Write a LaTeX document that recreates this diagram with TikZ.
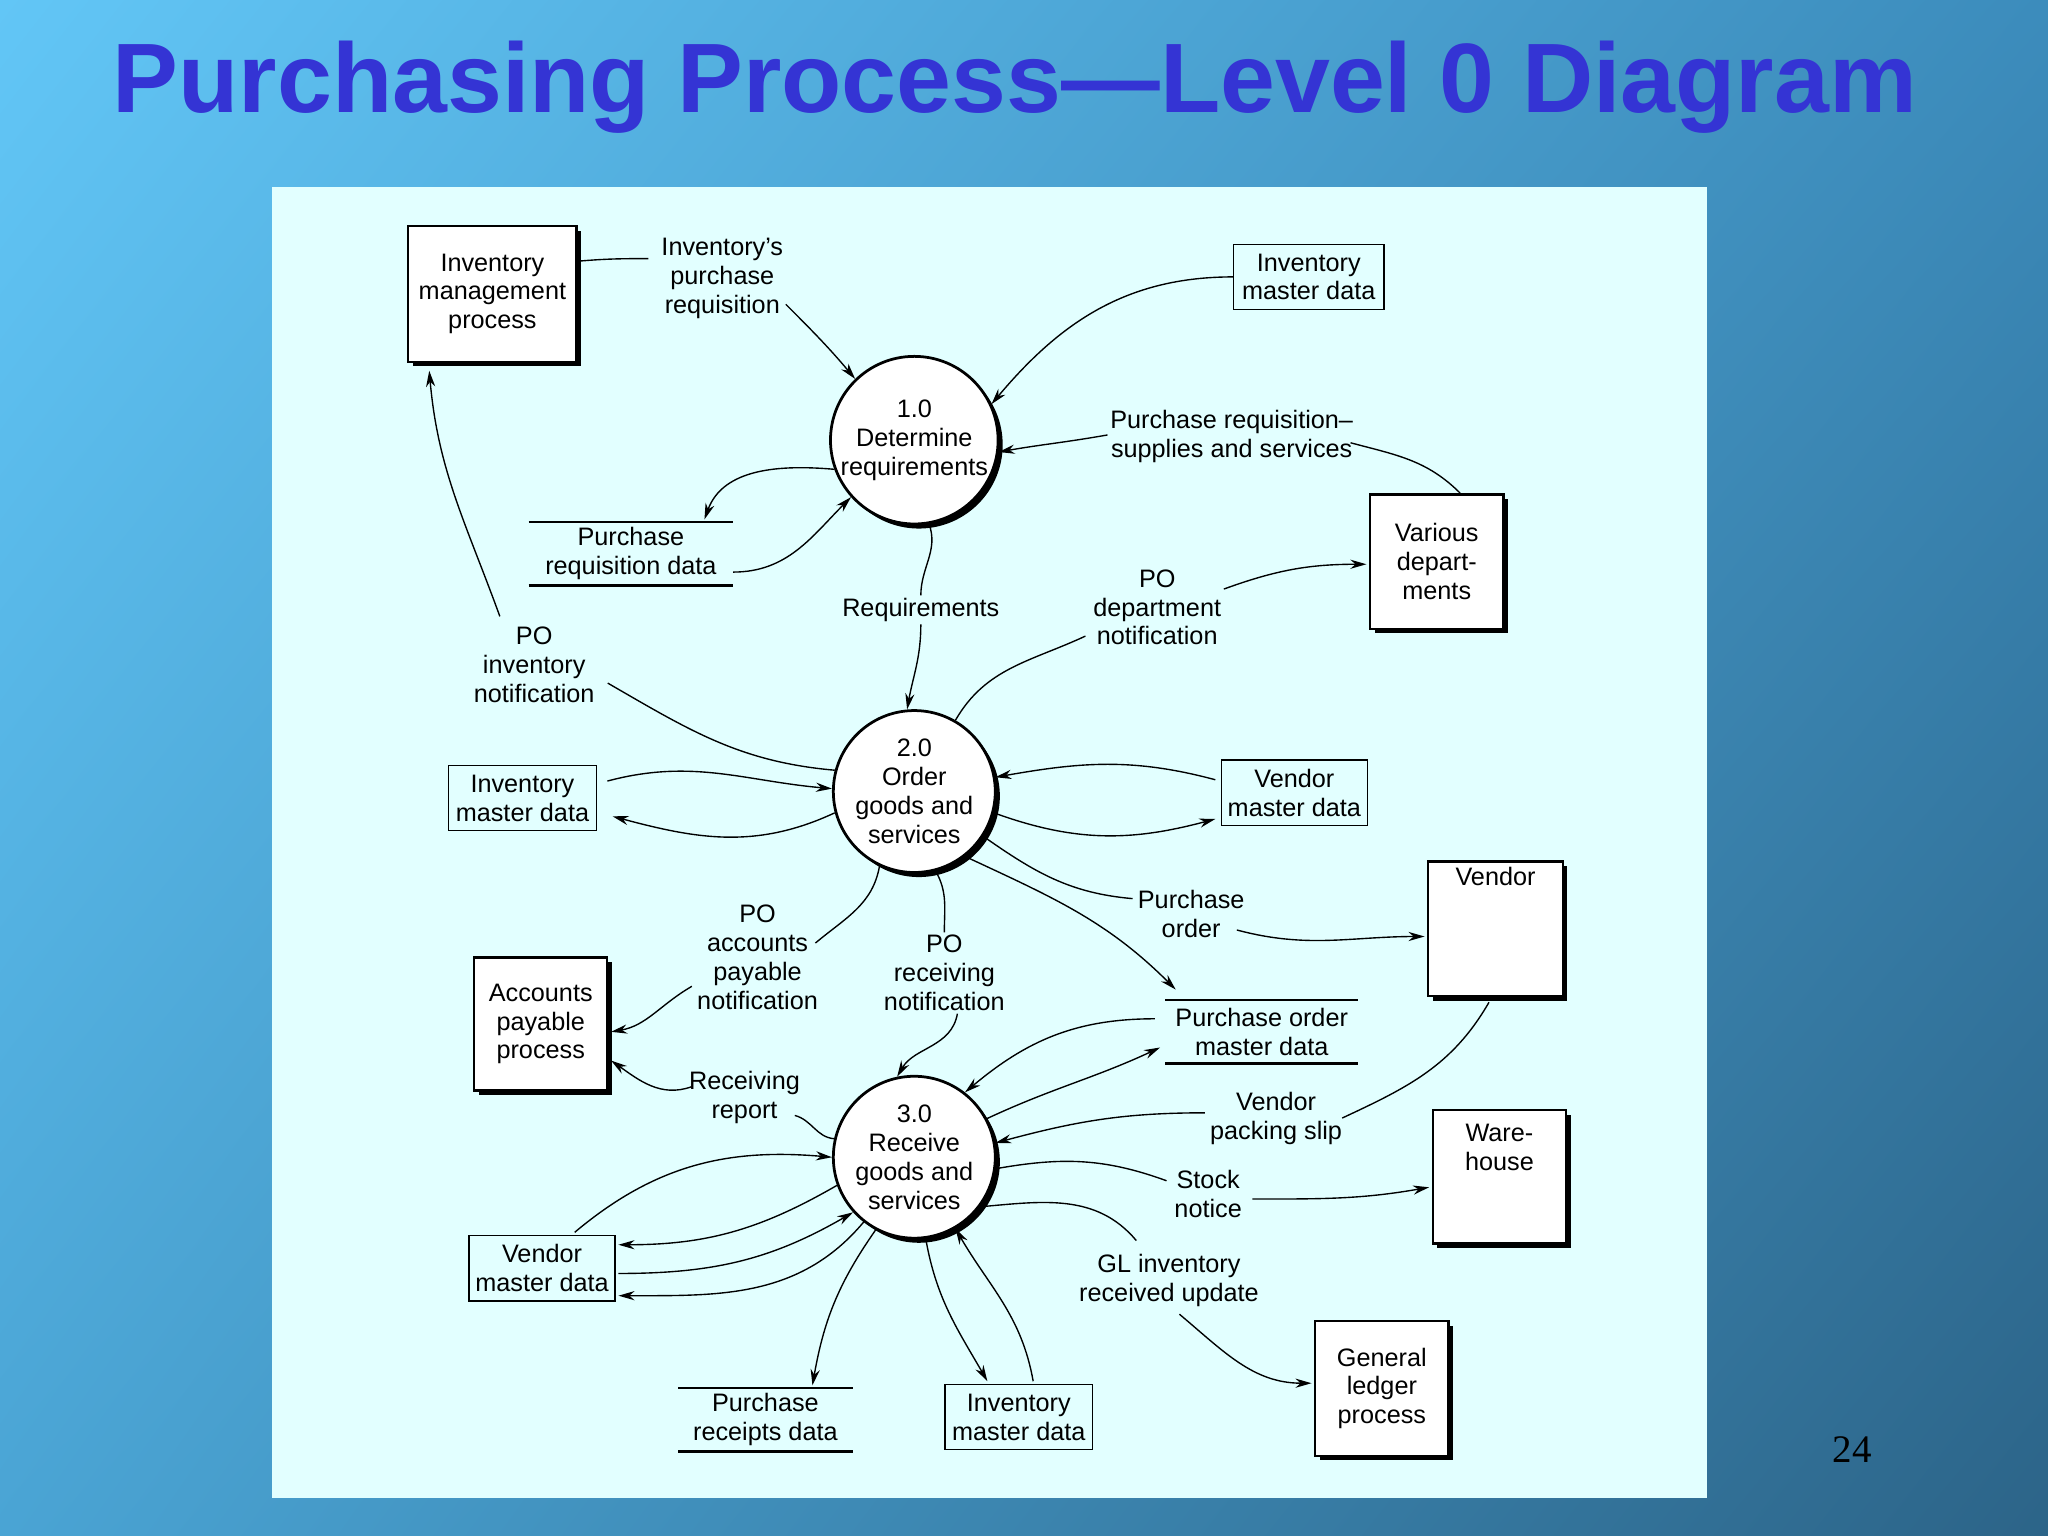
\documentclass[tikz,border=0pt]{standalone}
\usepackage{fontspec}
\setmainfont{Liberation Sans}
\newfontfamily\pgserif{Liberation Serif}
\usetikzlibrary{shadows,calc,arrows.meta,shadings}
\definecolor{titleblue}{HTML}{3434D4}
\definecolor{panel}{HTML}{E2FFFF}
\definecolor{bgtl}{HTML}{62C6F6}
\definecolor{bgbr}{HTML}{2C6488}
\definecolor{bgtr}{HTML}{3C8CBC}
\definecolor{bgbl}{HTML}{4AA4D4}
\tikzset{
  proc/.style={circle,draw,line width=1.2pt,fill=white,minimum size=2.48cm,inner sep=0pt,align=center,
    drop shadow={shadow xshift=2pt,shadow yshift=-2pt,opacity=1,fill=black}},
  ent/.style={rectangle,draw,line width=1pt,fill=white,align=center,inner sep=1pt,
    drop shadow={shadow xshift=2pt,shadow yshift=-2pt,opacity=1,fill=black}},
  store/.style={rectangle,draw,line width=0.6pt,align=center,inner sep=1pt,minimum height=1cm},
  open/.style={rectangle,align=center,inner sep=1pt,minimum height=0.96cm},
  lbl/.style={align=center,inner sep=1pt},
  flow/.style={line width=0.6pt,-{Stealth[length=7pt,width=4pt]}},
  seg/.style={line width=0.6pt}
}
\begin{document}
\begin{tikzpicture}[x=0.02cm,y=-0.02cm,font=\fontsize{11}{12.6}\selectfont]
\useasboundingbox (0,0) rectangle (1568,1176);
\shade[upper left=bgtl,upper right=bgtr,lower left=bgbl,lower right=bgbr] (0,0) rectangle (1568,1176);
\fill[panel] (208,143) rectangle (1307,1147);
\node[font=\fontsize{43}{50}\selectfont\bfseries,text=titleblue] (title) at (777,67) {Purchasing Process---Level 0 Diagram};
\node[font=\pgserif\fontsize{17}{20}\selectfont] (page) at (1418,1110) {24};

% processes
\node[proc] (p1) at (700,337) {1.0\\Determine\\requirements};
\node[proc] (p2) at (700,606) {2.0\\Order\\goods and\\services};
\node[proc] (p3) at (700,886) {3.0\\Receive\\goods and\\services};

% external entities
\node[ent,minimum width=2.58cm,minimum height=2.08cm] (imp) at (377,225) {Inventory\\management\\process};
\node[ent,minimum width=2.04cm,minimum height=2.06cm] (vd) at (1100,430) {Various\\depart-\\ments};
\node[ent,minimum width=2.06cm,minimum height=2.06cm] (vendor) at (1145,711) {Vendor\\[3em]};
\node[ent,minimum width=2.04cm,minimum height=2.04cm] (ap) at (414,784) {Accounts\\payable\\process};
\node[ent,minimum width=2.04cm,minimum height=2.04cm] (wh) at (1148,901) {Ware-\\house\\[1.2em]};
\node[ent,minimum width=2.04cm,minimum height=2.06cm] (gl) at (1058,1063) {General\\ledger\\process};

% data stores
\node[store,minimum width=2.3cm] (imd1) at (1002,212) {Inventory\\master data};
\node[store,minimum width=2.26cm] (imd2) at (400,611) {Inventory\\master data};
\node[store,minimum width=2.24cm] (vmd1) at (991,607) {Vendor\\master data};
\node[store,minimum width=2.24cm] (vmd2) at (415,971) {Vendor\\master data};
\node[store,minimum width=2.26cm] (imd3) at (780,1085) {Inventory\\master data};
\node[open,minimum width=3.12cm] (prd) at (483,424) {Purchase\\requisition data};
\node[open,minimum width=2.94cm] (pomd) at (966,790) {Purchase order\\master data};
\node[open,minimum width=2.66cm] (prcd) at (586,1087) {Purchase\\receipts data};
\foreach \s in {prd,pomd,prcd}{
  \draw[line width=0.6pt] (\s.north west) -- (\s.north east);
  \draw[line width=1.2pt] (\s.south west) -- (\s.south east);
}

% flow labels
\node[lbl] (ireq) at (553,213) {Inventory's\\purchase\\requisition};
\node[lbl] (prs) at (943,334) {Purchase requisition--\\supplies and services};
\node[lbl] (req) at (705,467) {Requirements};
\node[lbl] (dept) at (886,465) {PO\\department\\notification};
\node[lbl] (poinv) at (409,509) {PO\\inventory\\notification};
\node[lbl] (po) at (912,700) {Purchase\\order};
\node[lbl] (poap) at (580,733) {PO\\accounts\\payable\\notification};
\node[lbl] (porec) at (723,745) {PO\\receiving\\notification};
\node[lbl] (rr) at (570,840) {Receiving\\report};
\node[lbl] (ps) at (977,856) {Vendor\\packing slip};
\node[lbl] (sn) at (925,914) {Stock\\notice};
\node[lbl] (glu) at (895,980) {GL inventory\\received update};

% flows around 1.0
\draw[seg] ($(imp.east)+(0,-25)$) to[out=5,in=180] ($(ireq.west)+(-8,-15)$);
\draw[flow] ($(ireq.east)+(0,20)$) to[out=-45,in=130] (p1.134);
\draw[flow] (imd1.west) to[out=180,in=50] (p1.25);
\draw[flow] ($(prs.west)+(0,-1)$) to[out=190,in=10] (p1.-8);
\draw[seg] ($(prs.east)+(-4,5)$) to[out=-15,in=135] ($(vd.north)+(18,0)$);
\draw[flow] (p1.200) to[out=175,in=70] ($(prd.north east)+(-22,-2)$);
\draw[flow] ($(prd.east)+(0,14)$) to[out=0,in=225] (p1.222);
\draw[seg] (p1.-80) to[out=-70,in=90] (req.north);
\draw[flow] (req.south) to[out=-90,in=80] (p2.95);

% flows around 2.0
\draw[seg] (p2.60) to[out=60,in=205] ($(dept.west)+(-4,22)$);
\draw[flow] ($(dept.east)+(0,-14)$) to[out=20,in=180] ($(vd.west)+(-2,2)$);
\draw[seg] (p2.165) to[out=175,in=-30] ($(poinv.east)+(8,14)$);
\draw[flow] ($(poinv.north west)+(22,-6)$) to[out=110,in=-85] ($(imp.south west)+(17,6)$);
\draw[flow] ($(imd2.east)+(8,-13)$) to[out=15,in=175] (p2.178);
\draw[flow] (p2.195) to[out=205,in=-15] ($(imd2.east)+(12,14)$);
\draw[flow] ($(vmd1.west)+(-4,-10)$) to[out=165,in=10] (p2.10);
\draw[flow] (p2.-15) to[out=-20,in=195] ($(vmd1.west)+(-4,20)$);
\draw[seg] (p2.-33) to[out=-35,in=175] ($(po.west)+(-2,-12)$);
\draw[flow] ($(po.east)+(-8,12)$) to[out=-15,in=180] ($(vendor.west)+(-2,6)$);
\draw[flow] (p2.-52) to[out=-25,in=135] ($(pomd.north west)+(8,-8)$);
\draw[seg] (p2.-115) to[out=-100,in=40] ($(poap.east)+(-4,-11)$);
\draw[flow] ($(poap.south west)+(-2,-20)$) to[out=-150,in=10] ($(ap.east)+(2,6)$);
\draw[seg] (p2.-75) to[out=-60,in=90] (porec.north);
\draw[flow] ($(porec.south)+(10,0)$) to[out=-100,in=60] (p3.102);

% flows around 3.0
\draw[seg] (p3.167) to[out=175,in=-15] ($(rr.east)+(-6,14)$);
\draw[flow] ($(rr.west)+(4,-8)$) to[out=200,in=-35] ($(ap.east)+(2,28)$);
\draw[flow] ($(pomd.west)+(-8,-10)$) to[out=180,in=40] (p3.52);
\draw[flow] (p3.28) to[out=25,in=205] ($(pomd.west)+(-4,12)$);
\draw[seg] ($(vendor.south)+(-5,4)$) to[out=-120,in=25] ($(ps.east)+(-2,0)$);
\draw[flow] ($(ps.west)+(-2,-4)$) to[out=180,in=15] (p3.10);
\draw[seg] (p3.-8) to[out=10,in=160] ($(sn.west)+(-4,-10)$);
\draw[flow] ($(sn.east)+(6,4)$) to[out=0,in=190] ($(wh.west)+(-2,8)$);
\draw[seg] (p3.-37) to[out=5,in=130] ($(glu.north)+(-25,-8)$);
\draw[flow] ($(glu.south)+(8,4)$) to[out=-40,in=180] ($(gl.west)+(-2,-4)$);
\draw[flow] ($(vmd2.north)+(25,-2)$) to[out=40,in=175] (p3.180);
\draw[flow] (p3.200) to[out=-150,in=0] ($(vmd2.east)+(2,-18)$);
\draw[flow] ($(vmd2.east)+(2,4)$) to[out=0,in=-150] (p3.222);
\draw[flow] (p3.232) to[out=-130,in=0] ($(vmd2.east)+(2,21)$);
\draw[flow] (p3.-118) to[out=-125,in=80] ($(prcd.north)+(36,-2)$);
\draw[flow] (p3.-82) to[out=-80,in=120] ($(imd3.north west)+(33,-2)$);
\draw[flow] ($(imd3.north east)+(-46,-2)$) to[out=100,in=-60] (p3.-60);
\end{tikzpicture}
\end{document}
